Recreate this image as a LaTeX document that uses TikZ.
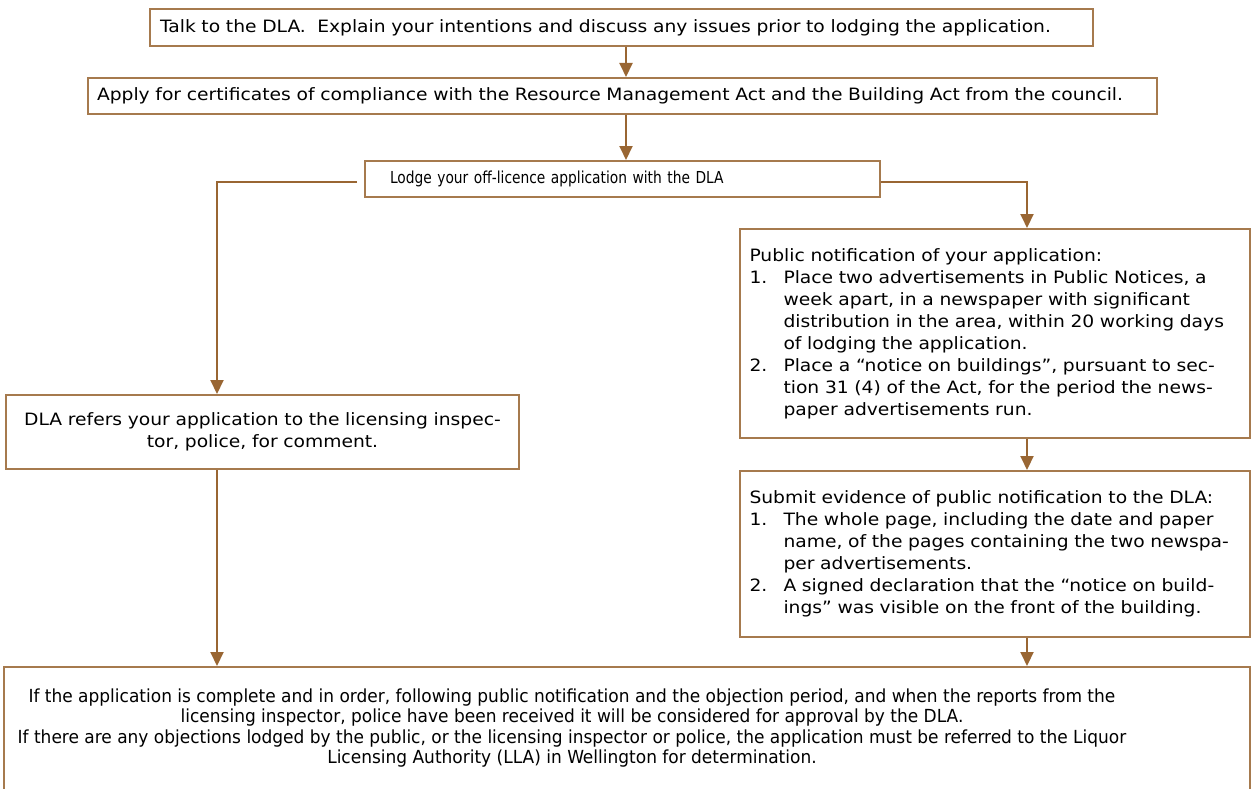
\documentclass[tikz,border=0pt]{standalone}
\usepackage{fontspec}
\setmainfont{DejaVu Sans}[FakeStretch=1.1]
\newfontfamily\condfont{DejaVu Sans Condensed}[FakeStretch=1.05]
\newfontfamily\lodgefont{DejaVu Sans Condensed}[FakeStretch=0.93]
\usetikzlibrary{positioning}
\usetikzlibrary{arrows.meta}
\definecolor{boxbrown}{RGB}{166,122,78}
\definecolor{arrowbrown}{RGB}{153,102,51}

\begin{document}
\begin{tikzpicture}[x=1pt,y=-1pt]
\tikzset{stage/.style={rectangle, draw=boxbrown, line width=2pt, inner ysep=0pt, font=\fontsize{17}{22}\selectfont}}
\tikzset{flow/.style={draw=arrowbrown, line width=2pt, -{Triangle[length=14pt,width=13pt]}}}
\newcommand{\numitem}[1]{\makebox[34pt][l]{#1}}
\newcommand{\hangline}{\hspace*{34pt}}
\useasboundingbox (0,0) rectangle (1252,789);
% top chain
\node[stage, minimum height=37pt, text width=923pt, inner xsep=10pt, align=left] (talk) at (621.5,27.5) {Talk to the DLA.\ \ Explain your intentions and discuss any issues prior to lodging the application.};
\node[stage, minimum height=36pt, text width=1051pt, inner xsep=9pt, align=left] (apply) at (622.5,96) {Apply for certificates of compliance with the Resource Management Act and the Building Act from the council.};
\node[stage, minimum height=36pt, text width=465pt, inner xsep=25pt, align=left, font=\lodgefont\fontsize{16.5}{20}\selectfont] (lodge) at (622.5,179) {Lodge your off-licence application with the DLA};
% left branch
\node[stage, minimum height=74pt, text width=493pt, inner xsep=10pt, align=center] (refers) at (262.5,432) {DLA refers your application to the licensing inspec-\\tor, police, for comment.};
% right branch
\node[stage, minimum height=209pt, text width=490pt, inner xsep=10pt, align=left] (public) at (994.5,333.5) {Public notification of your application:\\
\numitem{1.}Place two advertisements in Public Notices, a\\
\hangline week apart, in a newspaper with significant\\
\hangline distribution in the area, within 20 working days\\
\hangline of lodging the application.\\
\numitem{2.}Place a ``notice on buildings'', pursuant to sec-\\
\hangline tion 31 (4) of the Act, for the period the news-\\
\hangline paper advertisements run.};
\node[stage, minimum height=166pt, text width=490pt, inner xsep=10pt, align=left, below=31pt of public] (submit) {Submit evidence of public notification to the DLA:\\
\numitem{1.}The whole page, including the date and paper\\
\hangline name, of the pages containing the two newspa-\\
\hangline per advertisements.\\
\numitem{2.}A signed declaration that the ``notice on build-\\
\hangline ings'' was visible on the front of the building.};
% outcome
\node[stage, minimum width=1246pt, minimum height=125pt] (final) at (627,729.5) {};
\node[align=center, font=\condfont\fontsize{18}{20.5}\selectfont] (finaltext) at (572,728) {If the application is complete and in order, following public notification and the objection period, and when the reports from the\\
licensing inspector, police have been received it will be considered for approval by the DLA.\\
If there are any objections lodged by the public, or the licensing inspector or police, the application must be referred to the Liquor\\
Licensing Authority (LLA) in Wellington for determination.};
% connectors
\draw[flow] ([xshift=4.5pt]talk.south) -- ([xshift=4.5pt]talk.south |- apply.north);
\draw[flow] ([xshift=3.5pt]apply.south) -- ([xshift=3.5pt]apply.south |- lodge.north);
\draw[flow, shorten <=7pt] ([yshift=-3pt]lodge.west) -| ([xshift=-45.5pt]refers.north);
\draw[flow] ([yshift=-3pt]lodge.east) -| ([xshift=32.5pt]public.north);
\draw[flow] ([xshift=32.5pt]public.south) -- ([xshift=32.5pt]submit.north);
\draw[flow] ([xshift=32.5pt]submit.south) -- ([xshift=32.5pt]submit.south |- final.north);
\draw[flow] ([xshift=-45.5pt]refers.south) -- ([xshift=-45.5pt]refers.south |- final.north);
\end{tikzpicture}
\end{document}
